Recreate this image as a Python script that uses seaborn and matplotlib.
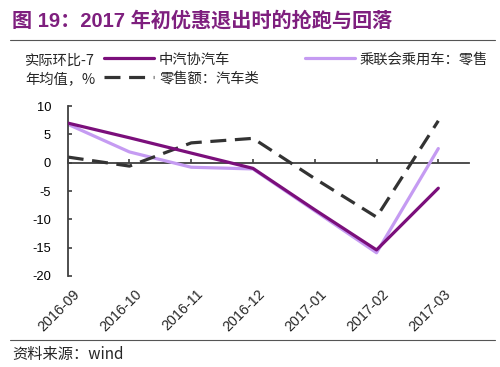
import numpy as np
import pandas as pd
import seaborn as sns
import matplotlib.pyplot as plt
import matplotlib.transforms as mtransforms
from matplotlib.lines import Line2D

MONTHS = ["2016-09", "2016-10", "2016-11", "2016-12", "2017-01", "2017-02", "2017-03"]
CAAM = [7.0, 4.4, 1.7, -1.0, -8.3, -15.4, -4.5]
CPCA = [6.8, 1.9, -0.8, -1.1, -8.5, -15.9, 2.5]
RETAIL = [1.0, -0.6, 3.5, 4.3, -2.8, -9.6, 7.4]

DARK_PURPLE = "#7B0F7B"
LIGHT_PURPLE = "#C59BF2"
DASH_COLOR = "#333333"
AXES_COLOR = "#404040"
TITLE_COLOR = "#7E1F7E"


def main():
    sns.set_style("white")
    plt.rcParams["font.family"] = ["Liberation Sans", "Noto Sans CJK SC", "DejaVu Sans"]
    plt.rcParams["axes.unicode_minus"] = False
    cjk = ["Noto Sans CJK SC", "DejaVu Sans"]

    df = pd.DataFrame({"x": np.arange(len(MONTHS)), "caam": CAAM, "cpca": CPCA, "retail": RETAIL})

    fig = plt.figure(figsize=(5, 3.67), dpi=100)
    ax = fig.add_axes([0.1354, 0.248, 0.803, 0.463])

    sns.lineplot(x="x", y="caam", data=df, ax=ax, color=DARK_PURPLE, linewidth=2.3,
                 label="中汽协汽车")
    sns.lineplot(x="x", y="cpca", data=df, ax=ax, color=LIGHT_PURPLE, linewidth=2.3,
                 label="乘联会乘用车：零售")
    sns.lineplot(x="x", y="retail", data=df, ax=ax, color=DASH_COLOR, linewidth=2.3,
                 label="零售额：汽车类")
    ax.lines[2].set_dashes((5, 2.7))
    ax.lines[0].set_zorder(3)

    ax.set_xlim(0, 6.5)
    ax.set_ylim(-20, 10)
    ax.set_yticks([10, 5, 0, -5, -10, -15, -20])
    ax.set_xlabel("")
    ax.set_ylabel("")

    for s in ["top", "right"]:
        ax.spines[s].set_visible(False)
    ax.spines["left"].set_color(AXES_COLOR)
    ax.spines["left"].set_linewidth(1.3)
    ax.spines["bottom"].set_position(("data", 0))
    ax.spines["bottom"].set_color(AXES_COLOR)
    ax.spines["bottom"].set_linewidth(1.3)
    ax.spines["bottom"].set_zorder(1)

    ax.tick_params(axis="y", direction="in", length=3, width=1.2, color=AXES_COLOR,
                   labelsize=9.3, labelcolor="black", pad=12, left=True)
    ax.set_xticks(df["x"])
    ax.tick_params(axis="x", direction="in", length=3, width=1.2, color=AXES_COLOR,
                   labelbottom=False, bottom=True)

    # month labels sit at the bottom of the plot, the axis line runs along zero
    sec = ax.secondary_xaxis("bottom")
    sec.set_xticks(df["x"])
    sec.set_xticklabels(MONTHS, rotation=45, ha="right", rotation_mode="anchor", fontsize=10.3)
    sec.tick_params(length=0, pad=8)
    sec.spines["bottom"].set_visible(False)
    shift = mtransforms.ScaledTranslation(0.05, 0, fig.dpi_scale_trans)
    for lab in sec.get_xticklabels():
        lab.set_transform(lab.get_transform() + shift)

    handles, labels = ax.get_legend_handles_labels()
    ax.get_legend().remove()
    order = [0, 2, 1]
    fig.legend([handles[i] for i in order], [labels[i] for i in order],
               loc="upper left", bbox_to_anchor=(0.208, 0.857), ncol=2, frameon=False,
               prop={"family": cjk, "size": 10.3}, handlelength=3.5, handletextpad=0.35,
               columnspacing=3.2, labelspacing=0.35, borderaxespad=0, borderpad=0)

    fig.text(0.05, 0.808, "实际环比-7\n年均值，%", fontsize=10.3, va="center", ha="left",
             linespacing=1.5, family=cjk)

    fig.text(0.024, 0.945, "图 19：2017 年初优惠退出时的抢跑与回落", fontsize=14.5,
             fontweight="bold", color=TITLE_COLOR, va="center", ha="left",
             family=["Liberation Sans", "Noto Sans CJK SC"])

    fig.add_artist(Line2D([0.02, 0.99], [0.891, 0.891], color="#555555", linewidth=0.8))
    fig.add_artist(Line2D([0.02, 0.99], [0.073, 0.073], color="#555555", linewidth=0.8))
    fig.text(0.024, 0.035, "资料来源：wind", fontsize=11, va="center", ha="left",
             family=cjk)

    plt.savefig("out.png", dpi=100)


if __name__ == "__main__":
    main()
